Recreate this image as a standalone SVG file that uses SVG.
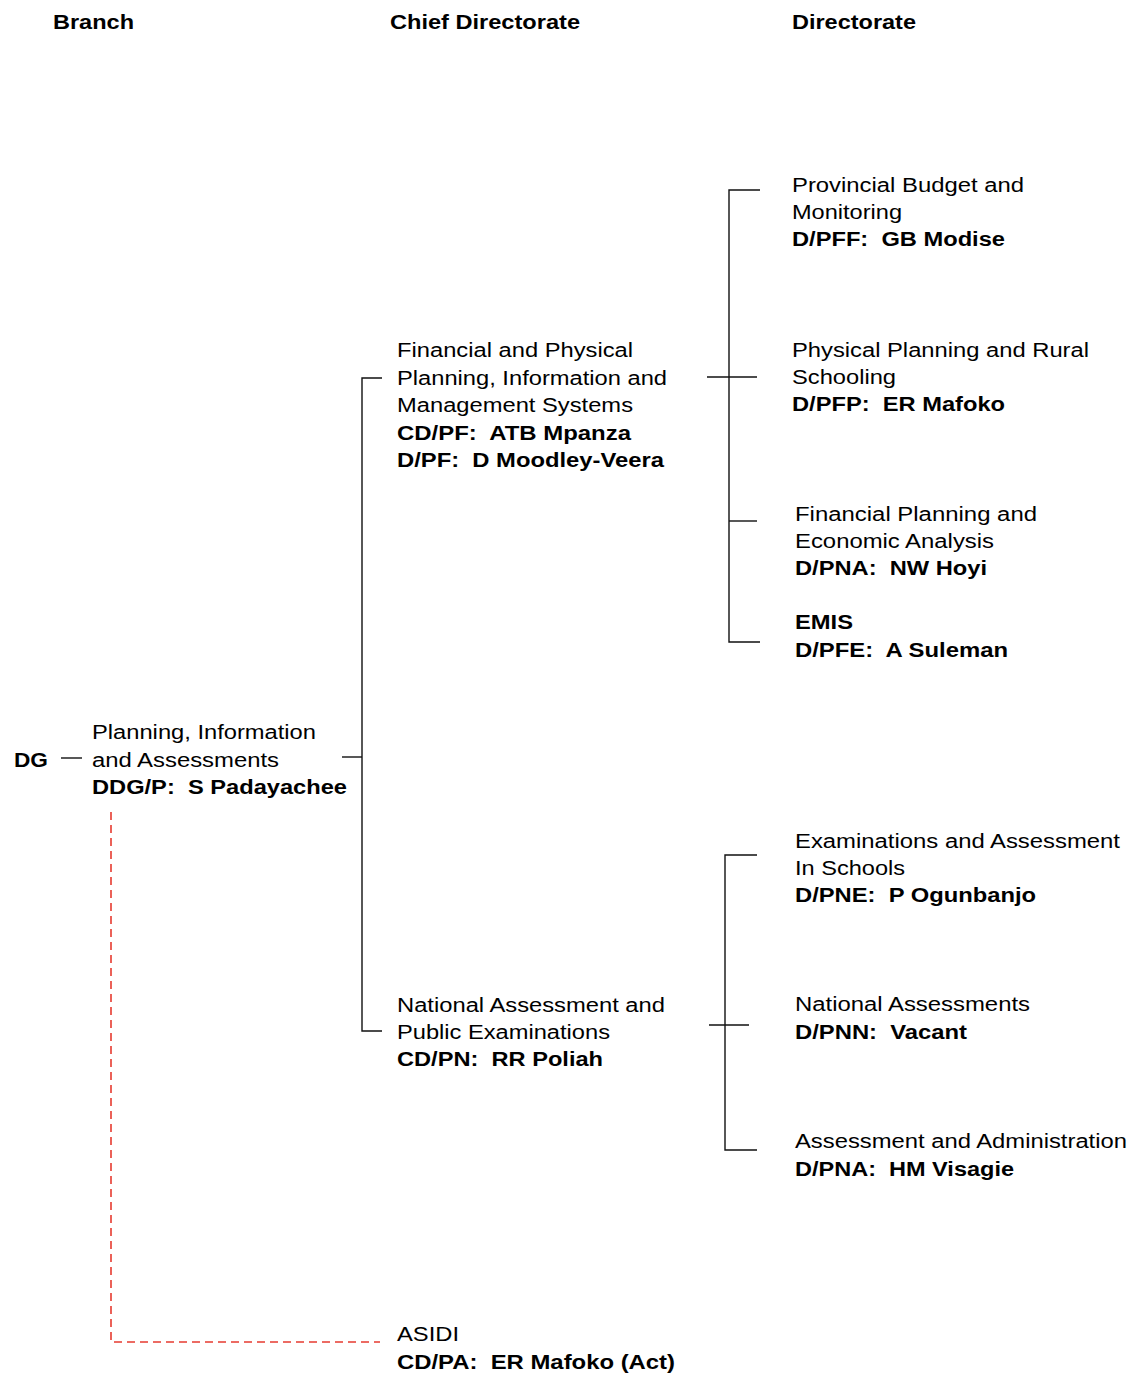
<svg xmlns="http://www.w3.org/2000/svg" width="1134" height="1374" viewBox="0 0 1134 1374">
  <style>
    text { font-family: "Liberation Sans", Arial, sans-serif; font-size: 20px; fill: #000; white-space: pre; }
    .b { font-weight: bold; }
    .h { font-weight: bold; font-size: 21px; }
    .ln { stroke: #111; stroke-width: 1.4; fill: none; }
    .dash { stroke: #e63b30; stroke-width: 1.6; fill: none; stroke-dasharray: 8 5; }
  </style>
  <rect width="1134" height="1374" fill="#fff"/>

  <!-- column headings -->
  <g id="headings">
    <text class="h" x="53" y="29" textLength="81" lengthAdjust="spacingAndGlyphs">Branch</text>
    <text class="h" x="390" y="29" textLength="190" lengthAdjust="spacingAndGlyphs">Chief Directorate</text>
    <text class="h" x="792" y="29" textLength="124" lengthAdjust="spacingAndGlyphs">Directorate</text>
  </g>

  <!-- connectors -->
  <g id="connectors">
    <line class="ln" x1="61" y1="758" x2="82" y2="758"/>
    <line class="ln" x1="342" y1="757" x2="362" y2="757"/>
    <path class="ln" d="M382 378 H362 V1031 H382"/>
    <line class="ln" x1="707" y1="377" x2="757" y2="377"/>
    <path class="ln" d="M760 190 H729 V642 H760"/>
    <line class="ln" x1="729" y1="521" x2="757" y2="521"/>
    <line class="ln" x1="709" y1="1025" x2="749" y2="1025"/>
    <path class="ln" d="M757 855 H725 V1150 H757"/>
    <path class="dash" d="M111 812 V1342 H380"/>
  </g>

  <g id="dg">
    <text class="b" x="14" y="767" textLength="34" lengthAdjust="spacingAndGlyphs">DG</text>
  </g>

  <g id="branch-planning">
    <text x="92" y="739" textLength="224" lengthAdjust="spacingAndGlyphs">Planning, Information</text>
    <text x="92" y="767" textLength="187" lengthAdjust="spacingAndGlyphs">and Assessments</text>
    <text class="b" x="92" y="794" textLength="255" lengthAdjust="spacingAndGlyphs">DDG/P:  S Padayachee</text>
  </g>

  <g id="cd-financial">
    <text x="397" y="357" textLength="236" lengthAdjust="spacingAndGlyphs">Financial and Physical</text>
    <text x="397" y="385" textLength="270" lengthAdjust="spacingAndGlyphs">Planning, Information and</text>
    <text x="397" y="412" textLength="236" lengthAdjust="spacingAndGlyphs">Management Systems</text>
    <text class="b" x="397" y="440" textLength="234" lengthAdjust="spacingAndGlyphs">CD/PF:  ATB Mpanza</text>
    <text class="b" x="397" y="467" textLength="267" lengthAdjust="spacingAndGlyphs">D/PF:  D Moodley-Veera</text>
  </g>

  <g id="d-budget">
    <text x="792" y="192" textLength="232" lengthAdjust="spacingAndGlyphs">Provincial Budget and</text>
    <text x="792" y="219" textLength="110" lengthAdjust="spacingAndGlyphs">Monitoring</text>
    <text class="b" x="792" y="246" textLength="213" lengthAdjust="spacingAndGlyphs">D/PFF:  GB Modise</text>
  </g>

  <g id="d-physical">
    <text x="792" y="357" textLength="297" lengthAdjust="spacingAndGlyphs">Physical Planning and Rural</text>
    <text x="792" y="384" textLength="104" lengthAdjust="spacingAndGlyphs">Schooling</text>
    <text class="b" x="792" y="411" textLength="213" lengthAdjust="spacingAndGlyphs">D/PFP:  ER Mafoko</text>
  </g>

  <g id="d-financial-planning">
    <text x="795" y="521" textLength="242" lengthAdjust="spacingAndGlyphs">Financial Planning and</text>
    <text x="795" y="548" textLength="199" lengthAdjust="spacingAndGlyphs">Economic Analysis</text>
    <text class="b" x="795" y="575" textLength="192" lengthAdjust="spacingAndGlyphs">D/PNA:  NW Hoyi</text>
  </g>

  <g id="d-emis">
    <text class="b" x="795" y="629" textLength="58" lengthAdjust="spacingAndGlyphs">EMIS</text>
    <text class="b" x="795" y="657" textLength="213" lengthAdjust="spacingAndGlyphs">D/PFE:  A Suleman</text>
  </g>

  <g id="cd-national">
    <text x="397" y="1012" textLength="268" lengthAdjust="spacingAndGlyphs">National Assessment and</text>
    <text x="397" y="1039" textLength="213" lengthAdjust="spacingAndGlyphs">Public Examinations</text>
    <text class="b" x="397" y="1066" textLength="206" lengthAdjust="spacingAndGlyphs">CD/PN:  RR Poliah</text>
  </g>

  <g id="d-examinations">
    <text x="795" y="848" textLength="325" lengthAdjust="spacingAndGlyphs">Examinations and Assessment</text>
    <text x="795" y="875" textLength="110" lengthAdjust="spacingAndGlyphs">In Schools</text>
    <text class="b" x="795" y="902" textLength="241" lengthAdjust="spacingAndGlyphs">D/PNE:  P Ogunbanjo</text>
  </g>

  <g id="d-national-assessments">
    <text x="795" y="1011" textLength="235" lengthAdjust="spacingAndGlyphs">National Assessments</text>
    <text class="b" x="795" y="1039" textLength="172" lengthAdjust="spacingAndGlyphs">D/PNN:  Vacant</text>
  </g>

  <g id="d-administration">
    <text x="795" y="1148" textLength="332" lengthAdjust="spacingAndGlyphs">Assessment and Administration</text>
    <text class="b" x="795" y="1176" textLength="219" lengthAdjust="spacingAndGlyphs">D/PNA:  HM Visagie</text>
  </g>

  <g id="cd-asidi">
    <text x="397" y="1341" textLength="62" lengthAdjust="spacingAndGlyphs">ASIDI</text>
    <text class="b" x="397" y="1369" textLength="278" lengthAdjust="spacingAndGlyphs">CD/PA:  ER Mafoko (Act)</text>
  </g>
</svg>
